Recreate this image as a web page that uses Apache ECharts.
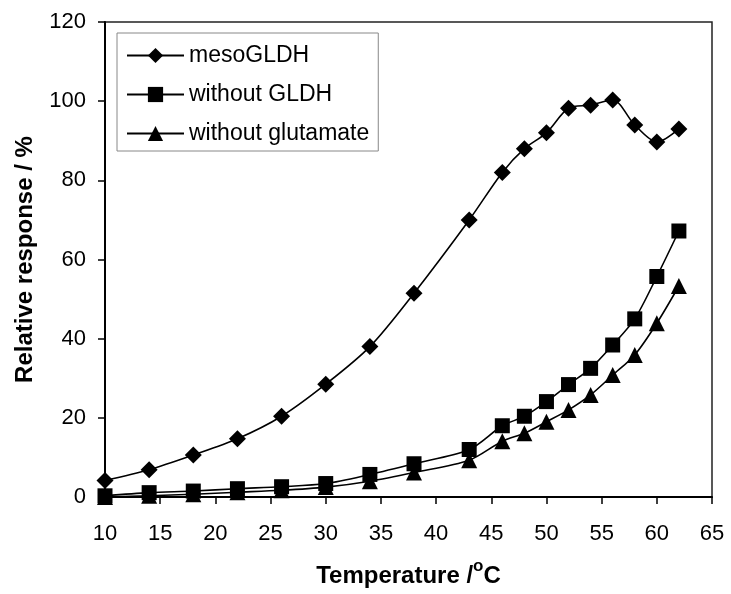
<!DOCTYPE html>
<html>
<head>
<meta charset="utf-8">
<script src="https://cdn.jsdelivr.net/npm/echarts@6/dist/echarts.min.js"></script>
<style>
html, body { margin: 0; padding: 0; background: #fff; }
#chart { width: 731px; height: 594px; }
</style>
</head>
<body>
<div id="chart"></div>
<script>
// temperatures (°C) and relative response (%)
var temps = [10, 14, 18, 22, 26, 30, 34, 38, 43, 46, 48, 50, 52, 54, 56, 58, 60, 62];
var mesoGLDH = [4.2, 6.9, 10.6, 14.7, 20.4, 28.5, 38, 51.5, 70, 82, 88, 92, 98.2, 99, 100.3, 94, 89.7, 93];
var withoutGLDH = [0.3, 1.1, 1.5, 2.1, 2.6, 3.4, 5.7, 8.4, 12, 18, 20.4, 24.1, 28.4, 32.5, 38.4, 45, 55.7, 67.2];
var withoutGlutamate = [0, 0.3, 0.7, 1.2, 1.7, 2.5, 4, 6.2, 9.3, 14.1, 16.1, 19, 22, 25.8, 30.8, 35.9, 43.9, 53.3];
var seriesNames = ['mesoGLDH', 'without GLDH', 'without glutamate'];
var symbols = ['diamond', 'rect', 'triangle'];
var symbolSizes = [17, 15, 16];

function pairs(ys) {
    var out = [];
    for (var i = 0; i < temps.length; i++) {
        out.push([temps[i], ys[i]]);
    }
    return out;
}

var chart = echarts.init(document.getElementById('chart'));
var font = '"Liberation Sans", Arial, sans-serif';

var series = [mesoGLDH, withoutGLDH, withoutGlutamate].map(function(ys, i) {
    return {
        name: seriesNames[i],
        type: 'line',
        smooth: 0.3,
        symbol: symbols[i],
        symbolSize: symbolSizes[i],
        itemStyle: { color: '#000' },
        lineStyle: { color: '#000', width: 1.6 },
        data: pairs(ys)
    };
});

var option = {
    backgroundColor: '#fff',
    animation: false,
    textStyle: { fontFamily: font },
    grid: {
        left: 105,
        right: 19,
        top: 22,
        bottom: 97,
        outerBoundsMode: 'none',
        show: true,
        borderColor: '#222',
        borderWidth: 1.5
    },
    legend: {
        orient: 'vertical',
        left: 117,
        top: 33,
        data: seriesNames,
        itemWidth: 57,
        itemHeight: 19,
        itemGap: 16,
        padding: [11, 9, 6, 9],
        borderColor: '#888',
        borderWidth: 1,
        backgroundColor: '#fff',
        textStyle: { fontFamily: font, fontSize: 23, color: '#000' }
    },
    xAxis: {
        type: 'value',
        min: 10,
        max: 65,
        interval: 5,
        name: '{a|Temperature /}{sup|o}{a|C}',
        nameLocation: 'middle',
        nameGap: 61,
        nameTextStyle: {
            fontFamily: font,
            fontSize: 24,
            fontWeight: 'bold',
            color: '#000',
            rich: {
                a: { fontFamily: font, fontSize: 24, fontWeight: 'bold', color: '#000', lineHeight: 30, verticalAlign: 'bottom' },
                sup: { fontFamily: font, fontSize: 17, fontWeight: 'bold', color: '#000', lineHeight: 17, verticalAlign: 'top' }
            }
        },
        axisLine: { onZero: false, lineStyle: { color: '#000', width: 2 } },
        axisTick: { length: 7, lineStyle: { color: '#000', width: 1.5 } },
        axisLabel: { margin: 26, fontSize: 22, color: '#000', fontFamily: font },
        splitLine: { show: false }
    },
    yAxis: {
        type: 'value',
        min: 0,
        max: 120,
        interval: 20,
        name: 'Relative response / %',
        nameLocation: 'middle',
        nameGap: 68,
        nameTextStyle: { fontFamily: font, fontSize: 24, fontWeight: 'bold', color: '#000' },
        axisLine: { show: true, lineStyle: { color: '#000', width: 2 } },
        axisTick: { show: true, length: 7, lineStyle: { color: '#000', width: 1.5 } },
        axisLabel: { margin: 19, fontSize: 22, color: '#000', fontFamily: font },
        splitLine: { show: false }
    },
    series: series
};
chart.setOption(option);
</script>
</body>
</html>
